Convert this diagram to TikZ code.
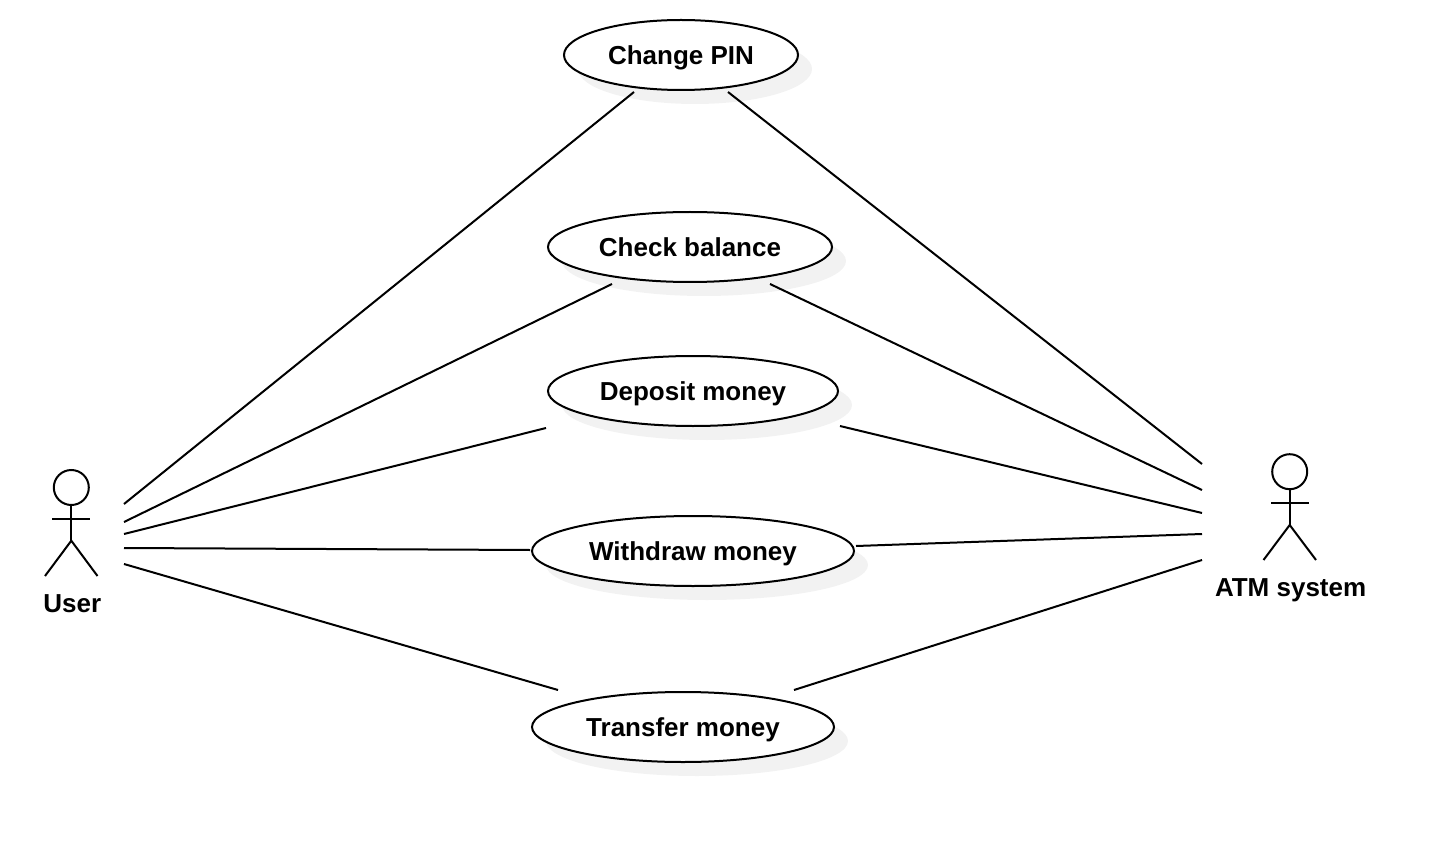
\documentclass[tikz,border=0pt]{standalone}
\usepackage{fontspec}
\setmainfont{Liberation Sans}
\usetikzlibrary{shapes.geometric}
\definecolor{shade}{HTML}{F2F2F2}
\tikzset{x=1pt,y=-1pt,
 usecase/.style={ellipse,draw=black,line width=2pt,fill=white,inner sep=0pt,text=black},
 casetext/.style={font=\fontsize{26}{30}\selectfont\bfseries,inner sep=0pt,text=black,anchor=base},
 caseshadow/.style={ellipse,fill=shade,inner sep=0pt},
 link/.style={draw=black,line width=2pt},
 limb/.style={draw=black,line width=2pt},
 actorlabel/.style={font=\fontsize{26}{30}\selectfont\bfseries,inner sep=0pt,text=black,anchor=base}}
\newcommand{\ucase}[7]{% name, cx, cy, w, h, text, baseline
 \node[caseshadow,minimum width=#4pt,minimum height=#5pt] at (#2+14,#3+14) {};
 \node[usecase,minimum width=#4pt,minimum height=#5pt] (#1) at (#2,#3) {};
 \node[casetext] (#1t) at (#2,#7) {#6};
}
\begin{document}
\begin{tikzpicture}
\useasboundingbox (0,0) rectangle (1456,842);
\ucase{pin}{681}{55}{234}{70}{Change PIN}{64.7}
\ucase{bal}{690}{247}{284}{70}{Check balance}{256.7}
\ucase{dep}{693}{391}{290}{70}{Deposit money}{400}
\ucase{wit}{693}{551}{322}{70}{Withdraw money}{560}
\ucase{tra}{683}{727}{302}{70}{Transfer money}{736}
% user actor
\node[circle,draw=black,line width=2pt,minimum size=35pt,inner sep=0pt] (uh) at (71.3,487.5) {};
\coordinate (uhip) at (71.3,540.7);
\coordinate (ua1) at (52.3,518.5);
\coordinate (ua2) at (90.3,518.5);
\coordinate (ul1) at (45,576);
\coordinate (ul2) at (97.5,576);
\draw[limb] (uh.south) -- (uhip);
\draw[limb] (ua1) -- (ua2);
\draw[limb] (ul1) -- (uhip) -- (ul2);
\node[actorlabel] (ulabel) at (72.3,612) {User};
% atm actor
\node[circle,draw=black,line width=2pt,minimum size=35pt,inner sep=0pt] (ah) at (1289.7,471.7) {};
\coordinate (ahip) at (1289.7,525);
\coordinate (aa1) at (1271,502.5);
\coordinate (aa2) at (1308.5,502.5);
\coordinate (al1) at (1263.5,560);
\coordinate (al2) at (1316,560);
\draw[limb] (ah.south) -- (ahip);
\draw[limb] (aa1) -- (aa2);
\draw[limb] (al1) -- (ahip) -- (al2);
\node[actorlabel] (alabel) at (1290.6,596) {ATM system};
% connector ends
\coordinate (u1) at (124,504);
\coordinate (u2) at (124,522);
\coordinate (u3) at (124,534);
\coordinate (u4) at (124,548);
\coordinate (u5) at (124,564);
\coordinate (a1) at (1202,464);
\coordinate (a2) at (1202,490);
\coordinate (a3) at (1202,513);
\coordinate (a4) at (1202,534);
\coordinate (a5) at (1202,560);
\coordinate (p1) at (634,92);
\coordinate (p2) at (728,92);
\coordinate (b1) at (612,284);
\coordinate (b2) at (770,284);
\coordinate (d1) at (546,428);
\coordinate (d2) at (840,426);
\coordinate (w1) at (530,550);
\coordinate (w2) at (856,546);
\coordinate (t1) at (558,690);
\coordinate (t2) at (794,690);
\draw[link] (u1) -- (p1);
\draw[link] (u2) -- (b1);
\draw[link] (u3) -- (d1);
\draw[link] (u4) -- (w1);
\draw[link] (u5) -- (t1);
\draw[link] (p2) -- (a1);
\draw[link] (b2) -- (a2);
\draw[link] (d2) -- (a3);
\draw[link] (w2) -- (a4);
\draw[link] (t2) -- (a5);
\end{tikzpicture}
\end{document}
